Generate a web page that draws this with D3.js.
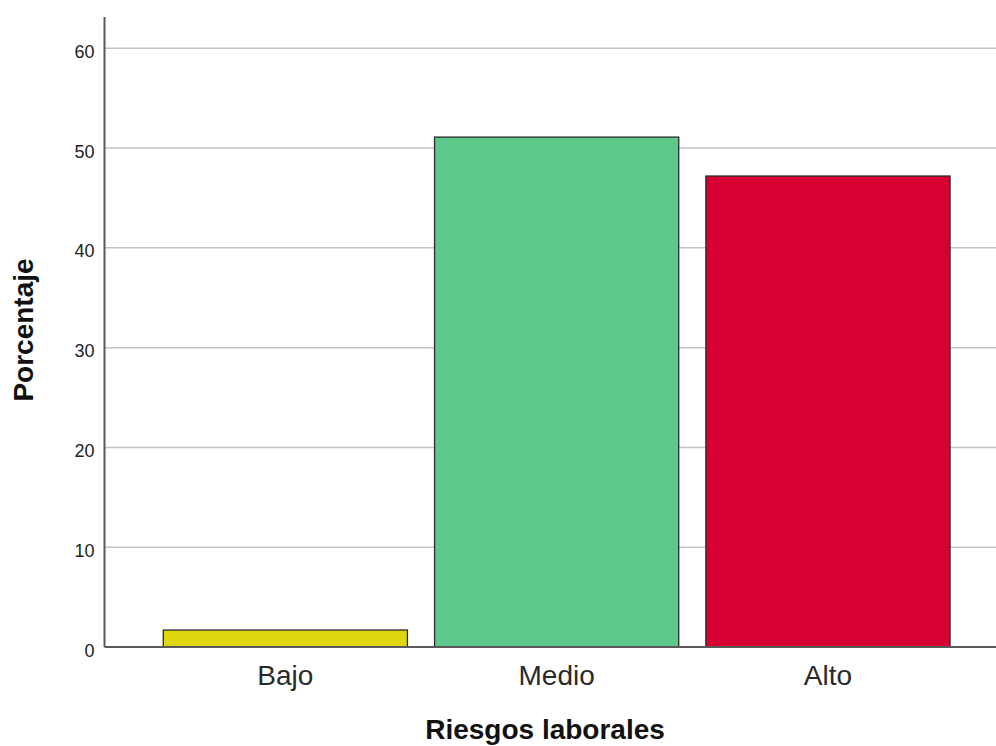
<!DOCTYPE html>
<html><head><meta charset="utf-8">
<script src="https://cdn.jsdelivr.net/npm/d3@7"></script>
<style>body{margin:0;background:#fff}svg{display:block;font-family:"Liberation Sans",Arial,sans-serif}</style>
</head><body><svg id="c" width="996" height="746"></svg>
<script>
const categories = ["Bajo", "Medio", "Alto"];
const values = [1.7, 51.1, 47.2];
const colors = ["#e0d60e", "#5cc98a", "#d70032"];
const yTicks = [0, 10, 20, 30, 40, 50, 60];

const svg = d3.select("#c");
const y = d3.scaleLinear().domain([0, 60]).range([647, 48.3]);
const x = d3.scaleBand().domain(categories).range([149.7, 963.6]).paddingInner(0.1).paddingOuter(0.05);
const left = 104.5, right = 996;
const FONT = "Liberation Sans, Arial, sans-serif";

// gridlines
svg.append("g").selectAll("line").data(yTicks.filter(d => d > 0)).join("line")
  .attr("x1", left).attr("x2", right).attr("y1", d => y(d)).attr("y2", d => y(d))
  .attr("stroke", "#c4c4c4").attr("stroke-width", 1.5);

// y axis
const ya = svg.append("g").attr("transform", `translate(${left},0)`)
  .call(d3.axisLeft(y).tickValues(yTicks).tickSize(0).tickPadding(10));
ya.select(".domain").remove();
ya.selectAll("text").attr("font-size", 18).attr("fill", "#222").attr("font-family", FONT).attr("dy", "0.5em");

// bars
svg.append("g").selectAll("rect").data(values).join("rect")
  .attr("x", (d, i) => x(categories[i])).attr("width", x.bandwidth())
  .attr("y", d => y(d)).attr("height", d => y(0) - y(d))
  .attr("fill", (d, i) => colors[i]).attr("stroke", "#2a2a2a").attr("stroke-width", 1.3);

// axis lines
svg.append("line").attr("x1", left).attr("x2", left).attr("y1", 17).attr("y2", y(0))
  .attr("stroke", "#5a5a5a").attr("stroke-width", 2);
svg.append("line").attr("x1", left).attr("x2", right).attr("y1", y(0)).attr("y2", y(0))
  .attr("stroke", "#5a5a5a").attr("stroke-width", 2);

// x axis labels
const xa = svg.append("g").attr("transform", `translate(0,${y(0)})`)
  .call(d3.axisBottom(x).tickSize(0).tickPadding(0));
xa.select(".domain").remove();
xa.selectAll("text").attr("font-size", 28).attr("fill", "#2a2a2a").attr("font-family", FONT)
  .attr("y", 38).attr("dy", 0);

// titles
svg.append("text").attr("x", 545).attr("y", 739).attr("text-anchor", "middle")
  .attr("font-size", 28).attr("font-weight", "bold").attr("fill", "#111").attr("font-family", FONT).text("Riesgos laborales");
svg.append("text").attr("transform", "translate(33,330) rotate(-90)").attr("text-anchor", "middle")
  .attr("font-size", 28).attr("font-weight", "bold").attr("fill", "#111").attr("font-family", FONT).text("Porcentaje");
</script></body></html>
